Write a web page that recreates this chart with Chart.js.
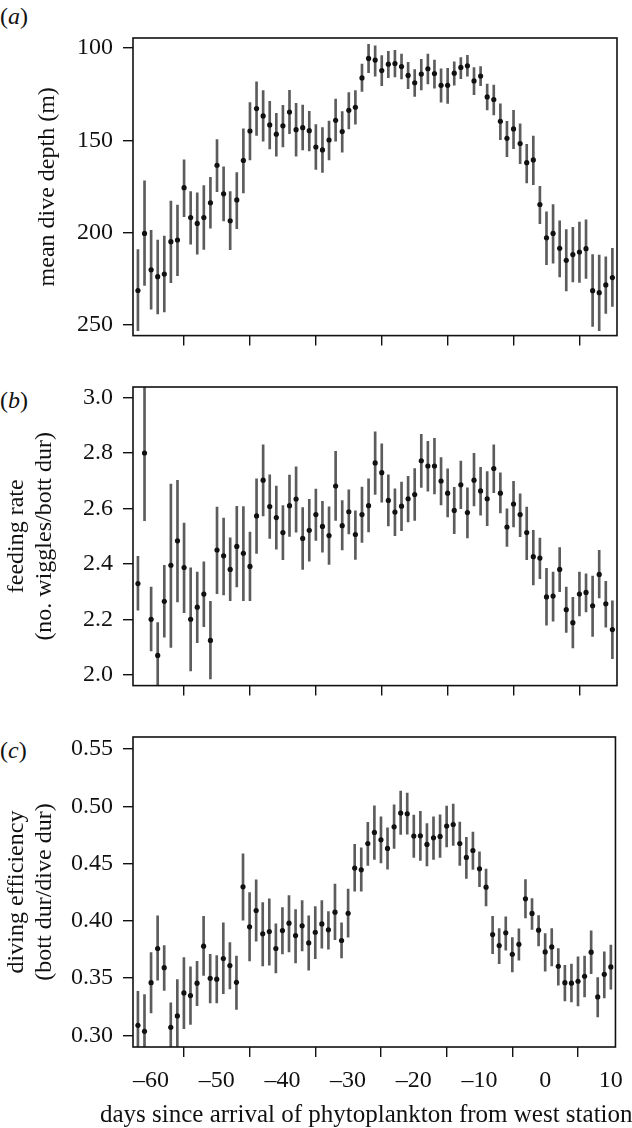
<!DOCTYPE html>
<html>
<head>
<meta charset="utf-8">
<script src="https://cdn.jsdelivr.net/npm/chart.js@4.4.1/dist/chart.umd.min.js"></script>
<style>
  html, body { margin: 0; padding: 0; background: #fff; }
  body { width: 632px; height: 1128px; position: relative; overflow: hidden; font-family: 'Liberation Serif', serif; color: #111; }
  canvas { position: absolute; left: 0; }
  .tag { position: absolute; left: 0; font-size: 24px; line-height: 1; }
  .xtitle { position: absolute; left: 100px; top: 1101px; font-size: 25px; line-height: 1; white-space: nowrap; }
</style>
</head>
<body>
<div class="tag" style="top:4px">(<i>a</i>)</div>
<div class="tag" style="top:388px">(<i>b</i>)</div>
<div class="tag" style="top:738px">(<i>c</i>)</div>
<canvas id="chart-a" width="632" height="360" style="top:0"></canvas>
<canvas id="chart-b" width="632" height="350" style="top:360px"></canvas>
<canvas id="chart-c" width="632" height="418" style="top:710px"></canvas>
<div class="xtitle">days since arrival of phytoplankton from west station</div>
<script>
// days since arrival of phytoplankton
const days = [-62, -61, -60, -59, -58, -57, -56, -55, -54, -53, -52, -51, -50, -49, -48, -47, -46, -45, -44, -43,
  -42, -41, -40, -39, -38, -37, -36, -35, -34, -33, -32, -31, -30, -29, -28, -27, -26, -25, -24, -23,
  -22, -21, -20, -19, -18, -17, -16, -15, -14, -13, -12, -11, -10, -9, -8, -7, -6, -5, -4, -3,
  -2, -1, 0, 1, 2, 3, 4, 5, 6, 7, 8, 9, 10];
const dayTicks = [-60, -50, -40, -30, -20, -10, 0, 10];

// (a) mean dive depth (m)
const depthMean = [231.6, 200.6, 220.4, 224.1, 222.7, 205.1, 204.2, 175.8, 192.0, 195.2, 192.0, 184.0, 163.6, 179.1, 193.8, 182.4, 161.0, 145.0, 132.8, 136.8,
  141.7, 146.7, 142.2, 134.7, 144.3, 143.2, 144.8, 153.7, 155.3, 149.9, 139.2, 145.3, 133.8, 132.1, 116.2, 105.6, 106.5, 112.2, 108.7, 108.4,
  110.0, 114.8, 118.8, 114.1, 111.2, 113.8, 120.2, 120.2, 113.6, 110.5, 109.6, 117.8, 115.2, 126.5, 127.9, 139.7, 149.0, 143.9, 151.8, 162.2,
  160.7, 184.9, 203.0, 200.6, 208.7, 215.2, 212.1, 210.7, 208.9, 231.7, 232.8, 228.6, 224.6];
const depthLow = [209.4, 172.0, 199.0, 204.2, 202.0, 183.0, 185.2, 160.7, 177.9, 178.6, 174.6, 170.2, 149.7, 164.5, 177.9, 167.6, 143.8, 129.6, 118.3, 123.0,
  128.9, 135.4, 131.0, 122.9, 130.0, 130.9, 134.3, 141.5, 143.1, 139.6, 127.7, 134.5, 124.1, 123.0, 108.7, 97.9, 98.8, 104.0, 101.8, 101.2,
  103.2, 107.7, 111.7, 106.1, 103.2, 106.5, 111.3, 111.0, 107.5, 105.2, 103.9, 110.5, 110.0, 119.5, 120.1, 130.2, 139.7, 133.8, 141.1, 152.3,
  147.8, 175.0, 188.9, 185.0, 193.8, 198.5, 197.3, 194.5, 193.2, 212.1, 212.4, 213.3, 208.7];
const depthHigh = [253.4, 228.9, 241.7, 244.3, 243.2, 227.4, 223.6, 191.5, 206.5, 211.9, 209.3, 197.8, 177.9, 193.8, 209.4, 198.1, 178.6, 160.7, 147.4, 150.5,
  154.7, 158.7, 153.7, 146.5, 158.7, 155.3, 155.8, 165.9, 167.5, 160.7, 150.5, 156.5, 143.9, 141.3, 123.5, 113.3, 115.2, 120.4, 116.0, 115.7,
  116.7, 122.0, 126.2, 122.7, 119.5, 121.8, 129.3, 130.0, 120.1, 116.6, 115.2, 125.3, 120.4, 133.6, 136.3, 149.7, 158.9, 154.6, 162.7, 173.2,
  174.1, 195.3, 217.6, 216.8, 224.3, 231.9, 226.9, 227.2, 225.0, 251.1, 253.4, 244.1, 240.3];
const depthTicks = [100, 150, 200, 250];

// (b) feeding rate (no. wiggles/bott dur)
const rateMean = [2.329, 2.800, 2.200, 2.070, 2.265, 2.395, 2.483, 2.387, 2.200, 2.244, 2.291, 2.124, 2.450, 2.429, 2.380, 2.463, 2.438, 2.391, 2.573, 2.702,
  2.607, 2.567, 2.513, 2.610, 2.634, 2.492, 2.521, 2.578, 2.535, 2.502, 2.681, 2.538, 2.588, 2.506, 2.578, 2.610, 2.764, 2.729, 2.629, 2.587,
  2.608, 2.635, 2.650, 2.772, 2.753, 2.753, 2.699, 2.655, 2.593, 2.685, 2.585, 2.702, 2.663, 2.635, 2.744, 2.655, 2.533, 2.616, 2.578, 2.513,
  2.426, 2.421, 2.281, 2.284, 2.380, 2.235, 2.188, 2.291, 2.297, 2.249, 2.362, 2.256, 2.163];
const rateLow = [2.233, 2.556, 2.086, 1.952, 2.136, 2.099, 2.263, 2.224, 2.014, 2.116, 2.174, 1.985, 2.293, 2.288, 2.267, 2.317, 2.267, 2.267, 2.438, 2.573,
  2.492, 2.453, 2.415, 2.499, 2.514, 2.380, 2.410, 2.485, 2.442, 2.398, 2.557, 2.450, 2.508, 2.416, 2.477, 2.515, 2.651, 2.623, 2.537, 2.502,
  2.520, 2.551, 2.557, 2.676, 2.662, 2.652, 2.613, 2.569, 2.509, 2.599, 2.494, 2.609, 2.576, 2.538, 2.657, 2.584, 2.463, 2.533, 2.498, 2.415,
  2.324, 2.347, 2.179, 2.193, 2.300, 2.153, 2.097, 2.212, 2.227, 2.138, 2.277, 2.172, 2.058];
const rateHigh = [2.427, 3.044, 2.316, 2.188, 2.395, 2.688, 2.701, 2.547, 2.386, 2.370, 2.407, 2.265, 2.605, 2.565, 2.494, 2.608, 2.607, 2.515, 2.707, 2.829,
  2.721, 2.681, 2.610, 2.720, 2.750, 2.603, 2.633, 2.670, 2.626, 2.606, 2.806, 2.628, 2.667, 2.591, 2.677, 2.707, 2.876, 2.833, 2.721, 2.671,
  2.695, 2.716, 2.744, 2.867, 2.842, 2.853, 2.783, 2.743, 2.676, 2.771, 2.674, 2.799, 2.748, 2.733, 2.829, 2.728, 2.599, 2.698, 2.653, 2.605,
  2.521, 2.493, 2.384, 2.370, 2.459, 2.316, 2.279, 2.370, 2.364, 2.356, 2.449, 2.337, 2.267];
const rateTicks = [2.0, 2.2, 2.4, 2.6, 2.8, 3.0];

// (c) diving efficiency (bott dur/dive dur)
const effMean = [0.3087, 0.3035, 0.3460, 0.3758, 0.3591, 0.3070, 0.3169, 0.3370, 0.3347, 0.3455, 0.3778, 0.3498, 0.3490, 0.3670, 0.3609, 0.3463, 0.4297, 0.3947, 0.4090, 0.3886,
  0.3906, 0.3758, 0.3915, 0.3979, 0.3871, 0.3956, 0.3807, 0.3900, 0.3973, 0.3921, 0.4075, 0.3828, 0.4066, 0.4460, 0.4445, 0.4675, 0.4772, 0.4707, 0.4632, 0.4821,
  0.4941, 0.4935, 0.4740, 0.4742, 0.4667, 0.4725, 0.4737, 0.4827, 0.4841, 0.4675, 0.4553, 0.4614, 0.4454, 0.4294, 0.3880, 0.3784, 0.3895, 0.3708, 0.3795, 0.4192,
  0.4064, 0.3918, 0.3728, 0.3772, 0.3603, 0.3460, 0.3455, 0.3472, 0.3516, 0.3726, 0.3335, 0.3533, 0.3597];
const effLow = [0.279, 0.272, 0.3195, 0.3481, 0.3393, 0.286, 0.285, 0.3058, 0.3096, 0.3259, 0.3522, 0.3283, 0.3283, 0.3364, 0.3405, 0.3227, 0.4005, 0.3650, 0.3822, 0.3606,
  0.3612, 0.3545, 0.3711, 0.3728, 0.3632, 0.3737, 0.3568, 0.3670, 0.3760, 0.3752, 0.3836, 0.3676, 0.3857, 0.4259, 0.4259, 0.4483, 0.4536, 0.4506, 0.4451, 0.4632,
  0.4754, 0.4757, 0.4553, 0.4527, 0.4480, 0.4536, 0.4553, 0.4646, 0.4658, 0.4483, 0.4369, 0.4448, 0.4297, 0.4131, 0.3714, 0.3626, 0.3743, 0.3554, 0.3656, 0.4026,
  0.3924, 0.3781, 0.3560, 0.3606, 0.3437, 0.3300, 0.3291, 0.3256, 0.3335, 0.3539, 0.3160, 0.3326, 0.3402];
const effHigh = [0.3385, 0.3355, 0.3722, 0.4043, 0.3784, 0.3283, 0.3487, 0.3679, 0.3597, 0.3647, 0.4040, 0.3708, 0.3696, 0.3982, 0.3810, 0.3693, 0.4585, 0.4247, 0.4358, 0.4160,
  0.4192, 0.3973, 0.4116, 0.4221, 0.4098, 0.4177, 0.4043, 0.4125, 0.4177, 0.4081, 0.4320, 0.3982, 0.4276, 0.4667, 0.4638, 0.4859, 0.5004, 0.4908, 0.4812, 0.5013,
  0.5133, 0.5115, 0.4923, 0.4955, 0.4850, 0.4908, 0.4926, 0.5002, 0.5019, 0.4862, 0.4728, 0.4774, 0.4603, 0.4451, 0.4040, 0.3932, 0.4034, 0.3854, 0.3930, 0.4361,
  0.4195, 0.4046, 0.3889, 0.3932, 0.3758, 0.3612, 0.3621, 0.3685, 0.3691, 0.3912, 0.3504, 0.3728, 0.3787];
const effTicks = [0.30, 0.35, 0.40, 0.45, 0.50, 0.55];

const FONT = 'Liberation Serif';
const INK = '#111';

// box round the plot area
const framePlugin = {
  id: 'frame',
  afterDatasetsDraw(chart) {
    const { ctx, chartArea: a } = chart;
    ctx.save();
    ctx.strokeStyle = INK;
    ctx.lineWidth = 1.6;
    ctx.strokeRect(a.left, a.top, a.right - a.left, a.bottom - a.top);
    ctx.restore();
  }
};

function minusSign(v) {
  return v < 0 ? '\u2013' + Math.abs(v) : String(v);
}

function makePanel(id, p) {
  const bars = days.map((d, i) => ({ x: d, y: [p.low[i], p.high[i]] }));
  const points = days.map((d, i) => ({ x: d, y: p.mean[i] }));
  const tickGrid = { display: true, drawOnChartArea: false, drawTicks: true, tickLength: 10, color: INK, lineWidth: 1.4 };

  return new Chart(document.getElementById(id), {
    type: 'bar',
    data: {
      datasets: [
        { type: 'bar', data: bars, backgroundColor: '#5c5c5c', borderWidth: 0, barThickness: 2, order: 2 },
        { type: 'scatter', data: points, backgroundColor: INK, borderColor: INK, pointRadius: 2.6, borderWidth: 0, order: 1 }
      ]
    },
    options: {
      responsive: false,
      animation: false,
      layout: { padding: { top: p.padTop, right: 15, left: 0, bottom: 0 } },
      plugins: { legend: { display: false }, tooltip: { enabled: false } },
      scales: {
        x: {
          type: 'linear',
          min: -62.75,
          max: 10.7,
          offset: false,
          border: { display: false },
          grid: tickGrid,
          afterBuildTicks: s => { s.ticks = dayTicks.map(v => ({ value: v })); },
          afterFit: s => { s.height = p.xHeight; },
          ticks: {
            display: p.xLabels,
            padding: 9,
            color: INK,
            font: { family: FONT, size: 24 },
            callback: v => minusSign(v)
          }
        },
        y: {
          type: 'linear',
          min: p.min,
          max: p.max,
          reverse: !!p.reverse,
          border: { display: false },
          grid: tickGrid,
          afterBuildTicks: s => { s.ticks = p.ticks.map(v => ({ value: v })); },
          afterFit: s => { s.width = 133; },
          ticks: {
            padding: 10,
            color: INK,
            font: { family: FONT, size: 24 },
            callback: v => v.toFixed(p.digits)
          },
          title: {
            display: true,
            text: p.title,
            color: INK,
            font: { family: FONT, size: 24, lineHeight: 1.2 },
            padding: { top: p.titlePad, bottom: 0 }
          }
        }
      }
    },
    plugins: [framePlugin]
  });
}

makePanel('chart-a', {
  mean: depthMean, low: depthLow, high: depthHigh, ticks: depthTicks,
  min: 94.5, max: 256.1, reverse: true, digits: 0,
  title: 'mean dive depth (m)', titlePad: 33,
  padTop: 38, xHeight: 13, xLabels: false
});

makePanel('chart-b', {
  mean: rateMean, low: rateLow, high: rateHigh, ticks: rateTicks,
  min: 1.961, max: 3.038, digits: 1,
  title: ['feeding rate', '(no. wiggles/bott dur)'], titlePad: 2,
  padTop: 27, xHeight: 14, xLabels: false
});

makePanel('chart-c', {
  mean: effMean, low: effLow, high: effHigh, ticks: effTicks,
  min: 0.2898, max: 0.5605, digits: 2,
  title: ['diving efficiency', '(bott dur/dive dur)'], titlePad: 2,
  padTop: 27, xHeight: 81, xLabels: true
});
</script>
</body>
</html>
